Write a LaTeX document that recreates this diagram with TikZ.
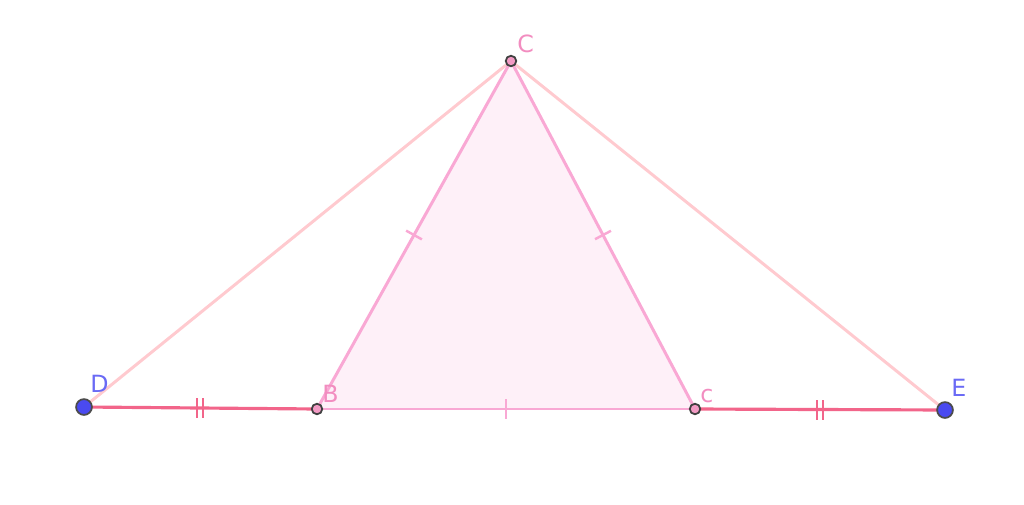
\documentclass[tikz,border=0pt]{standalone}
\usepackage{fontspec}
\setmainfont{DejaVu Sans}
\definecolor{side}{HTML}{F9A8D4}
\definecolor{tri}{HTML}{FEF0F8}
\definecolor{outer}{HTML}{FFCACF}
\definecolor{base}{HTML}{F2658A}
\definecolor{ptpink}{HTML}{F29AC4}
\definecolor{ptblue}{HTML}{4A4AF0}
\definecolor{lblpink}{HTML}{F28DC0}
\definecolor{lblblue}{HTML}{6A6AF5}
\tikzset{
  sideline/.style={draw=side, line width=1.7pt},
  outerline/.style={draw=outer, line width=1.7pt},
  baseline/.style={draw=base, line width=1.8pt},
  smallpt/.style={circle, draw=black!75, fill=ptpink, line width=1pt, minimum size=6pt, inner sep=0pt},
  bigpt/.style={circle, draw=black!70, fill=ptblue, line width=1pt, minimum size=9pt, inner sep=0pt},
  lblp/.style={text=lblpink, font=\fontsize{13.5}{15}\selectfont, inner sep=0pt},
  lblb/.style={text=lblblue, font=\fontsize{13.5}{15}\selectfont, inner sep=0pt},
}
\begin{document}
\begin{tikzpicture}[x=0.02cm, y=-0.02cm]
\useasboundingbox (0,0) rectangle (1024,504);
\coordinate (Cp) at (511,61);
\coordinate (Dp) at (84,407);
\coordinate (Bp) at (317,409);
\coordinate (cp) at (695,409);
\coordinate (Ep) at (945,410);
% triangle fill
\fill[tri] (Cp) -- (Bp) -- (cp) -- cycle;
% outer lines
\draw[outerline] (Dp) -- (Cp);
\draw[outerline] (Cp) -- (Ep);
% triangle sides
\draw[sideline] (Bp) -- (Cp);
\draw[sideline] (Cp) -- (cp);
\draw[sideline, line width=1.5pt] (Bp) -- (cp);
% base segments
\draw[baseline] (Dp) -- (Bp);
\draw[baseline] (cp) -- (Ep);
% tick marks
\draw[sideline, line width=1.4pt] (406.1,230.6) -- (421.9,239.4);
\draw[sideline, line width=1.4pt] (595,239.2) -- (611,230.8);
\draw[sideline, line width=1.4pt] (506,399) -- (506,419);
% double ticks
\draw[baseline, line width=1.4pt] (197,398) -- (197,418);
\draw[baseline, line width=1.4pt] (203,398) -- (203,418);
\draw[baseline, line width=1.4pt] (817,400) -- (817,420);
\draw[baseline, line width=1.4pt] (823,400) -- (823,420);
% points
\node[smallpt] (C) at (Cp) {};
\node[smallpt] (B) at (Bp) {};
\node[smallpt] (c) at (cp) {};
\node[bigpt] (D) at (Dp) {};
\node[bigpt] (E) at (Ep) {};
% labels
\node[lblp, anchor=base west] (lC) at (517,52) {C};
\node[lblp, anchor=base west] (lB) at (322,402) {B};
\node[lblp, anchor=base west] (lc) at (700,402) {c};
\node[lblb, anchor=base west] (lD) at (90,392) {D};
\node[lblb, anchor=base west] (lE) at (951,396) {E};
\end{tikzpicture}
\end{document}
